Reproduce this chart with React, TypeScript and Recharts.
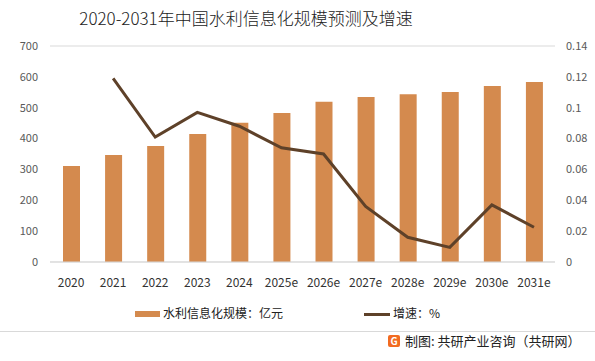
import { ComposedChart, Bar, Line, XAxis, YAxis, CartesianGrid } from 'recharts';

const years = ['2020', '2021', '2022', '2023', '2024', '2025e', '2026e', '2027e', '2028e', '2029e', '2030e', '2031e'];
const scale = [311, 347, 376, 415, 451, 483, 519, 535, 544, 551, 570, 583];
const growth = [null, 0.119, 0.081, 0.097, 0.088, 0.074, 0.070, 0.036, 0.016, 0.0095, 0.037, 0.0225];

const leftTicks = [0, 100, 200, 300, 400, 500, 600, 700];
const rightTicks = [0, 0.02, 0.04, 0.06, 0.08, 0.1, 0.12, 0.14];

const BAR_COLOR = '#D48A4E';
const LINE_COLOR = '#5E4129';
const FONT = '"Noto Sans CJK SC", "Noto Sans", sans-serif';

const data = years.map((year, i) => ({ year, scale: scale[i], growth: growth[i] }));

function LegendBox() {
  return (
    <div style={{ position: 'absolute', left: 0, top: 303, width: 595, height: 20, fontSize: 12, color: '#222' }}>
      <div style={{ position: 'absolute', left: 135, top: 8, width: 25, height: 6, background: BAR_COLOR }} />
      <div style={{ position: 'absolute', left: 163, top: 2, lineHeight: '16px' }}>水利信息化规模：亿元</div>
      <div style={{ position: 'absolute', left: 364, top: 10, width: 26, height: 3, background: LINE_COLOR }} />
      <div style={{ position: 'absolute', left: 393, top: 2, lineHeight: '16px' }}>增速：%</div>
    </div>
  );
}

export default function App() {
  return (
    <div style={{ position: 'absolute', left: 0, top: 0, width: 595, height: 361, background: '#fff', fontFamily: FONT }}>
      <div style={{ position: 'absolute', left: 0, width: 492, top: 5, textAlign: 'center', fontSize: 17, fontWeight: 300, color: '#222', lineHeight: '26px' }}>
        2020-2031年中国水利信息化规模预测及增速
      </div>
      <ComposedChart width={595} height={361} data={data} margin={{ top: 46, right: 0, left: 0, bottom: 69 }}>
        <CartesianGrid vertical={false} stroke="#d9d9d9" />
        <XAxis
          dataKey="year"
          tickLine={false}
          axisLine={{ stroke: '#d9d9d9' }}
          tick={{ fill: '#333', fontSize: 12 }}
          tickMargin={10}
          height={30}
        />
        <YAxis
          yAxisId="left"
          domain={[0, 700]}
          ticks={leftTicks}
          width={50}
          tickLine={false}
          axisLine={false}
          tickSize={0}
          tickMargin={12}
          tick={{ fill: '#595959', fontSize: 11 }}
        />
        <YAxis
          yAxisId="right"
          orientation="right"
          domain={[0, 0.14]}
          ticks={rightTicks}
          width={40}
          tickLine={false}
          axisLine={false}
          tickSize={0}
          tickMargin={11}
          tick={{ fill: '#595959', fontSize: 11, textAnchor: 'start' }}
        />
        <Bar yAxisId="left" dataKey="scale" fill={BAR_COLOR} barSize={17} isAnimationActive={false} />
        <Line
          yAxisId="right"
          dataKey="growth"
          stroke={LINE_COLOR}
          strokeWidth={3}
          dot={false}
          activeDot={false}
          connectNulls={false}
          isAnimationActive={false}
        />
      </ComposedChart>
      <LegendBox />
      <div style={{ position: 'absolute', left: 0, top: 331, width: 595, height: 1, background: '#d9d9d9' }} />
      <div style={{ position: 'absolute', left: 388, top: 335, width: 12, height: 12, borderRadius: 2, background: '#F26B21', color: '#fff', fontSize: 10, fontWeight: 700, lineHeight: '12px', textAlign: 'center' }}>
        G
      </div>
      <div style={{ position: 'absolute', left: 405, top: 332, fontSize: 13, color: '#222', lineHeight: '18px', whiteSpace: 'nowrap' }}>
        制图: 共研产业咨询（共研网）
      </div>
    </div>
  );
}
